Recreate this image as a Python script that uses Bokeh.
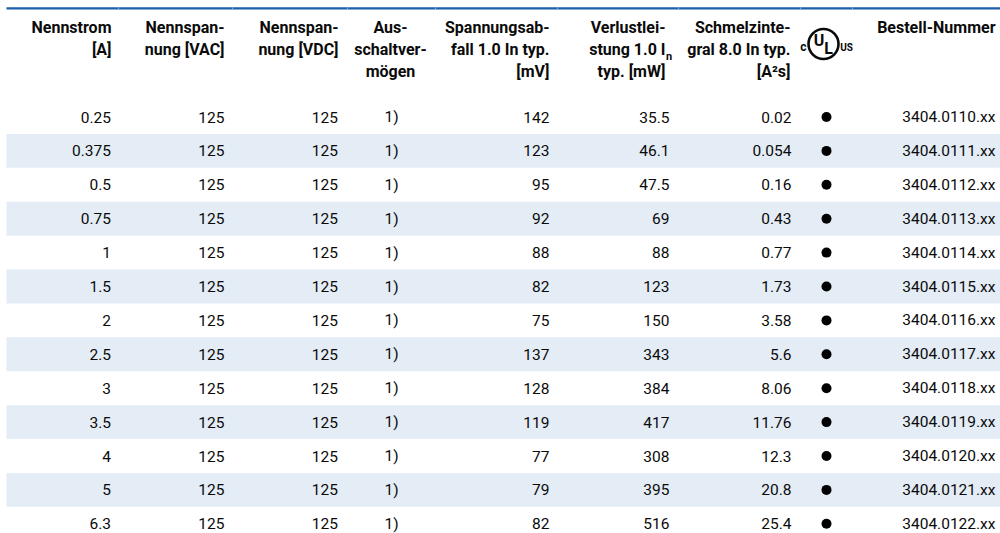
from bokeh.plotting import figure
from bokeh.models import Range1d, ColumnDataSource
from bokeh.core.properties import value
from bokeh.embed import file_html
from bokeh.resources import INLINE

# ---------------- data ----------------
nennstrom = ["0.25", "0.375", "0.5", "0.75", "1", "1.5", "2", "2.5", "3", "3.5", "4", "5", "6.3"]
nennspannung_vac = ["125", "125", "125", "125", "125", "125", "125", "125", "125", "125", "125", "125", "125"]
nennspannung_vdc = ["125", "125", "125", "125", "125", "125", "125", "125", "125", "125", "125", "125", "125"]
ausschaltvermoegen = ["1)", "1)", "1)", "1)", "1)", "1)", "1)", "1)", "1)", "1)", "1)", "1)", "1)"]
spannungsabfall = ["142", "123", "95", "92", "88", "82", "75", "137", "128", "119", "77", "79", "82"]
verlustleistung = ["35.5", "46.1", "47.5", "69", "88", "123", "150", "343", "384", "417", "308", "395", "516"]
schmelzintegral = ["0.02", "0.054", "0.16", "0.43", "0.77", "1.73", "3.58", "5.6", "8.06", "11.76", "12.3", "20.8", "25.4"]
ul_approved = [True] * 13
bestellnummer = ["3404.0110.xx", "3404.0111.xx", "3404.0112.xx", "3404.0113.xx", "3404.0114.xx",
                 "3404.0115.xx", "3404.0116.xx", "3404.0117.xx", "3404.0118.xx", "3404.0119.xx",
                 "3404.0120.xx", "3404.0121.xx", "3404.0122.xx"]

headers = [
    ["Nennstrom", "[A]"],
    ["Nennspan-", "nung [VAC]"],
    ["Nennspan-", "nung [VDC]"],
    ["Aus-", "schaltver-", "mögen"],
    ["Spannungsab-", "fall 1.0 In typ.", "[mV]"],
    ["Verlustlei-", "stung 1.0 I", "typ. [mW]"],
    ["Schmelzinte-", "gral 8.0 In typ.", "[A²s]"],
    [],
    ["Bestell-Nummer"],
]

# ---------------- layout ----------------
FONT = value("Roboto")
BLUE = "#1b5ea9"
STRIPE = "#e4ecf6"
TXT = "#0a0a0a"

W, H = 1000, 533
p = figure(width=W, height=H, output_backend="svg", toolbar_location=None,
           x_range=Range1d(0, 1000), y_range=Range1d(533, 0),
           min_border=0, outline_line_color=None)
p.axis.visible = False
p.grid.visible = False
p.background_fill_color = "white"
p.border_fill_color = "white"

n = len(nennstrom)
ROW0, ROWH = 116.5, 33.9
row_y = [ROW0 + ROWH * i for i in range(n)]

# stripes
stripe_y = [row_y[i] for i in range(n) if i % 2 == 1]
p.rect(x=[503] * len(stripe_y), y=stripe_y, width=994, height=ROWH,
       fill_color=STRIPE, line_color=None)

# top blue rule
p.segment(x0=[6], y0=[7.8], x1=[1000], y1=[7.8], line_color=BLUE, line_width=2.2)
gaps = [118, 232, 347, 435, 557, 678, 800, 852]
p.segment(x0=[g - 0.6 for g in gaps], y0=[7.8] * len(gaps), x1=[g + 0.6 for g in gaps],
          y1=[7.8] * len(gaps), line_color="#7fa8d6", line_width=2.2)

# header text
head_x = [111, 224, 338, 390, 549, 665, 790, None, 995]
head_align = ["right", "right", "right", "center", "right", "right", "right", None, "right"]
line_y = [27, 49, 71]
for c, lines in enumerate(headers):
    for k, t in enumerate(lines):
        p.text(x=[head_x[c]], y=[line_y[k]], text=[t], text_font=FONT, text_font_style="bold",
               text_font_size="16px", text_align=head_align[c], text_baseline="middle",
               text_color=TXT)
# subscript n for I_n
p.text(x=[665.5], y=[55.5], text=["n"], text_font=FONT, text_font_style="bold",
       text_font_size="11px", text_align="left", text_baseline="middle", text_color=TXT)

# UL logo
p.scatter(x=[823], y=[43.5], size=30, marker="circle", fill_color=None,
          line_color=TXT, line_width=2.6)
p.text(x=[818.5], y=[40], text=["U"], text_font=FONT, text_font_style="bold",
       text_font_size="16px", text_align="center", text_baseline="middle", text_color=TXT)
p.text(x=[828], y=[47.5], text=["L"], text_font=FONT, text_font_style="bold",
       text_font_size="16px", text_align="center", text_baseline="middle", text_color=TXT)
p.text(x=[803], y=[46.5], text=["c"], text_font=FONT, text_font_style="bold",
       text_font_size="12px", text_align="center", text_baseline="middle", text_color=TXT)
p.text(x=[846], y=[47], text=["US"], text_font=FONT, text_font_style="bold",
       text_font_size="10px", text_align="center", text_baseline="middle", text_color=TXT)

# body
cols = [
    (nennstrom, 110.5, "right"),
    (nennspannung_vac, 224, "right"),
    (nennspannung_vdc, 337.5, "right"),
    (ausschaltvermoegen, 391, "center"),
    (spannungsabfall, 549, "right"),
    (verlustleistung, 669, "right"),
    (schmelzintegral, 791, "right"),
    (bestellnummer, 995, "right"),
]
for vals, x, al in cols:
    src = ColumnDataSource(dict(x=[x] * n, y=row_y, t=vals))
    p.text(x="x", y="y", text="t", source=src, text_font=FONT, text_font_size="15.5px",
           text_align=al, text_baseline="middle", text_color=TXT)

ul_y = [row_y[i] for i in range(n) if ul_approved[i]]
p.scatter(x=[826] * len(ul_y), y=ul_y, size=10, marker="circle",
          fill_color="#000000", line_color=None)

open("out.html", "w").write(file_html(p, INLINE))
